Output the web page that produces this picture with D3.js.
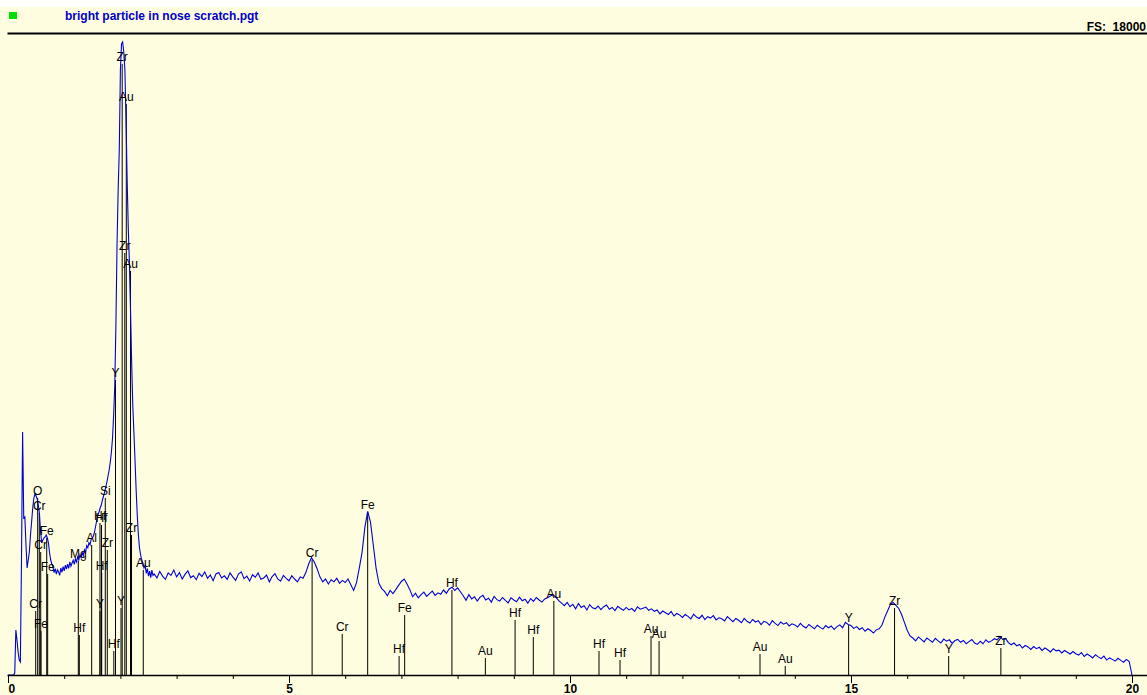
<!DOCTYPE html>
<html>
<head>
<meta charset="utf-8">
<script src="https://cdn.jsdelivr.net/npm/d3@7"></script>
<style>
  html, body { margin: 0; padding: 0; background: #ffffff; }
  svg { display: block; font-family: "Liberation Sans", Arial, sans-serif; }
</style>
</head>
<body>
<svg id="chart" width="1147" height="695"></svg>
<script>
// EDS spectrum: counts per channel, 0.02 keV channels from 0 to 2.58 keV
const LOW_START = 0, LOW_STEP = 0.02;
const lowCounts = [
  0, 0, 0, 0, 0, 0, 56, 1266, 984, 647,
  422, 366, 3234, 6834, 4416, 4444, 3656, 3009, 3234, 3459,
  3938, 4303, 4697, 4978, 5091, 5034, 4950, 4781, 4528, 4022,
  3713, 3797, 3853, 3881, 3938, 3853, 3713, 3431, 3234, 3122,
  3038, 2880, 2990, 2840, 2960, 2900, 2800, 3010, 2890, 3050,
  2930, 3090, 2980, 3120, 3000, 3180, 3060, 3150, 3230, 3110,
  3270, 3180, 3320, 3240, 3380, 3300, 3440, 3360, 3520, 3450,
  3640, 3580, 3720, 3660, 3820, 3850, 3909, 4022, 4191, 4359,
  4500, 4584, 4697, 4781, 4922, 5034, 5147, 5288, 5428, 5597,
  5766, 5991, 6272, 6666, 7313, 8156, 9844, 12094, 13641, 14766,
  17016, 17747, 17803, 17522, 17016, 15609, 13922, 12572, 11616, 10266,
  8803, 7594, 6834, 6047, 5203, 4500, 3938, 3572, 3375, 3234,
  3150, 3010, 3090, 2860, 2990, 2780, 2920, 2740, 2950, 2800
];

// 0.05 keV channels from 2.60 to 20.00 keV
const HIGH_START = 2.6, HIGH_STEP = 0.05;
const highCounts = [
  2840, 2730, 2910, 2780, 2690, 2870, 2800, 2950,
  2760, 2880, 2700, 2830, 2930, 2740, 2790, 2680, 2860, 2770, 2900, 2720, 2810, 2650, 2840, 2880, 2730, 2790, 2690, 2870,
  2760, 2660, 2840, 2900, 2710, 2780, 2640, 2820, 2750, 2870, 2690, 2730, 2810, 2620, 2770, 2850, 2700, 2640, 2800, 2720,
  2650, 2790, 2700, 2620, 2760, 2720, 2880, 3120, 3300, 3180, 2990, 2760, 2620, 2700, 2560, 2680, 2620, 2720, 2580, 2660,
  2600, 2700, 2540, 2380, 2590, 3000, 3450, 4150, 4600, 4300, 3650, 3000, 2580, 2430, 2350, 2230, 2380, 2290, 2400, 2520,
  2630, 2700, 2560, 2400, 2200, 2300, 2170, 2260, 2330, 2210, 2290, 2360, 2240, 2310, 2270, 2390, 2300, 2420, 2470, 2380,
  2450, 2340, 2230, 2100, 2260, 2140, 2200, 2080, 2190, 2240, 2110, 2160, 2050, 2210, 2120, 2080, 2180, 2100, 2030, 2170,
  2110, 2060, 2190, 2090, 2130, 2020, 2150, 2070, 2180, 2110, 2050, 2140, 2170, 2220, 2260, 2180, 2090, 2020, 1950, 2040,
  1920, 1990, 1860, 2010, 1900, 1950, 1830, 1980, 1890, 1860, 1940, 1840, 1920, 1970, 1850, 1900, 1810, 1930, 1870, 1820,
  1900, 1830, 1870, 1790, 1920, 1850, 1880, 1910, 1820, 1860, 1790, 1830, 1720, 1800, 1750, 1700, 1790, 1660, 1730, 1690,
  1620, 1700, 1650, 1580, 1710, 1630, 1590, 1680, 1560, 1640, 1600, 1670, 1550, 1610, 1580, 1520, 1640, 1570, 1500, 1590,
  1540, 1470, 1590, 1510, 1460, 1560, 1490, 1530, 1420, 1510, 1480, 1400, 1530, 1450, 1390, 1490, 1430, 1470, 1380, 1440,
  1410, 1350, 1450, 1370, 1320, 1420, 1360, 1300, 1400, 1340, 1290, 1390, 1330, 1380, 1280, 1360, 1410, 1330, 1480, 1420,
  1390, 1310, 1360, 1280, 1330, 1230, 1300, 1250, 1180, 1270, 1300, 1400, 1620, 1800, 1980, 2040, 1960, 1870, 1700, 1480,
  1260, 1100, 1040, 960, 1070, 1000, 930, 1040, 980, 920, 1030, 960, 900, 1010, 950, 990, 890, 970, 1000, 920,
  970, 880, 940, 1000, 900, 860, 950, 880, 990, 920, 960, 1020, 990, 1080, 1000, 1030, 910, 850, 900, 820,
  860, 760, 830, 790, 720, 800, 740, 780, 690, 760, 710, 650, 740, 680, 700, 620, 690, 640, 590, 660,
  600, 560, 630, 520, 590, 540, 480, 570, 510, 460, 530, 420, 480, 440, 390, 470, 410, 360, 440, 380,
  0
];

// Element line markers (KLM): label, energy (keV), marker height (counts)
const markerLabels = [
  "Cr", "O", "Cr", "Cr", "Fe", "Fe", "Fe", "Mg", "Hf", "Al",
  "Hf", "Hf", "Y", "Hf", "Si", "Zr", "Hf", "Y", "Y", "Zr",
  "Zr", "Au", "Au", "Zr", "Au",
  "Cr", "Cr", "Fe", "Hf", "Fe", "Hf", "Au", "Hf", "Hf", "Au",
  "Hf", "Hf", "Au", "Au", "Au", "Au", "Y", "Zr", "Y", "Zr"
];
const markerEnergies = [
  0.493, 0.528, 0.557, 0.582, 0.587, 0.689, 0.706, 1.251, 1.269, 1.489,
  1.637, 1.664, 1.637, 1.667, 1.731, 1.767, 1.883, 1.913, 2.011, 2.032,
  2.078, 2.105, 2.180, 2.198, 2.407,
  5.411, 5.947, 6.400, 6.959, 7.058, 7.899, 8.494, 9.023, 9.347, 9.713,
  10.516, 10.890, 11.442, 11.585, 13.381, 13.830, 14.958, 15.775, 16.738, 17.667
];
const markerHeights = [
  1800, 4978, 4556, 3459, 1237, 3853, 2841, 3206, 1125, 3656,
  4275, 4219, 1800, 2869, 4978, 3516, 675, 8297, 1884, 17184,
  11869, 16059, 11363, 3938, 2953,
  3234, 1153, 4584, 534, 1688, 2391, 478, 1547, 1069, 2081,
  675, 422, 1097, 956, 591, 253, 1406, 1884, 534, 759
];

const titleText = "bright particle in nose scratch.pgt";
const fullScaleText = "FS:  18000";
const fullScale = 18000;
const majorTicks = [0, 5, 10, 15, 20];
const minorTicks = d3.range(0, 21, 1);

const svg = d3.select("#chart");
const W = 1147, H = 695;

// background panels
svg.append("rect").attr("x", 0).attr("y", 0).attr("width", W).attr("height", H).attr("fill", "#ffffff");
svg.append("rect").attr("x", 0).attr("y", 7).attr("width", W).attr("height", H - 7).attr("fill", "#fffddf");

// header
svg.append("rect").attr("x", 9).attr("y", 12).attr("width", 8).attr("height", 7).attr("fill", "#00e000");
svg.append("text").attr("x", 65).attr("y", 19.5)
  .attr("font-size", 12).attr("font-weight", "bold").attr("fill", "#0000c8")
  .text(titleText);
svg.append("text").attr("x", 1146).attr("y", 31)
  .attr("text-anchor", "end").attr("font-size", 12).attr("font-weight", "bold")
  .attr("fill", "#000").style("white-space", "pre")
  .text(fullScaleText);
svg.append("rect").attr("x", 7.5).attr("y", 32.5).attr("width", W - 7.5).attr("height", 2).attr("fill", "#000");

// scales
const x = d3.scaleLinear().domain([0, 20]).range([8, 1132]);
const y = d3.scaleLinear().domain([0, fullScale]).range([675, 35]);

// marker lines
const markers = markerLabels.map((label, i) => ({ label, e: markerEnergies[i], h: markerHeights[i] }));
svg.append("g").selectAll("line").data(markers).join("line")
  .attr("x1", d => x(d.e)).attr("x2", d => x(d.e))
  .attr("y1", y(0)).attr("y2", d => y(d.h))
  .attr("stroke", "#000").attr("stroke-width", 1);

// spectrum trace
const spectrum = lowCounts.map((c, i) => [LOW_START + i * LOW_STEP, c])
  .concat(highCounts.map((c, i) => [HIGH_START + i * HIGH_STEP, c]));
svg.append("path").datum(spectrum)
  .attr("fill", "none").attr("stroke", "#0000d8").attr("stroke-width", 1.1)
  .attr("stroke-linejoin", "miter")
  .attr("d", d3.line().x(d => x(d[0])).y(d => y(d[1])));

// marker labels
svg.append("g").selectAll("text").data(markers).join("text")
  .attr("x", d => x(d.e)).attr("y", d => y(d.h) - 3)
  .attr("text-anchor", "middle").attr("font-size", 12).attr("fill", "#000")
  .text(d => d.label);

// energy axis
const axisY = 675;
svg.append("line").attr("x1", 7.5).attr("x2", W).attr("y1", axisY + 0.5).attr("y2", axisY + 0.5)
  .attr("stroke", "#000").attr("stroke-width", 1.5);
const minorAxis = svg.append("g").attr("transform", `translate(0,${axisY})`)
  .call(d3.axisBottom(x).tickValues(minorTicks).tickSize(4).tickFormat(""));
const majorAxis = svg.append("g").attr("transform", `translate(0,${axisY})`)
  .call(d3.axisBottom(x).tickValues(majorTicks).tickSize(8).tickPadding(1).tickFormat(d3.format("d")));
[minorAxis, majorAxis].forEach(g => {
  g.select(".domain").remove();
  g.selectAll(".tick line").attr("stroke", "#000");
});
majorAxis.selectAll(".tick text")
  .attr("font-family", "'Liberation Sans', Arial, sans-serif")
  .attr("font-size", 12).attr("font-weight", "bold").attr("fill", "#000")
  .attr("text-anchor", d => d === 0 ? "start" : "middle");
</script>
</body>
</html>
